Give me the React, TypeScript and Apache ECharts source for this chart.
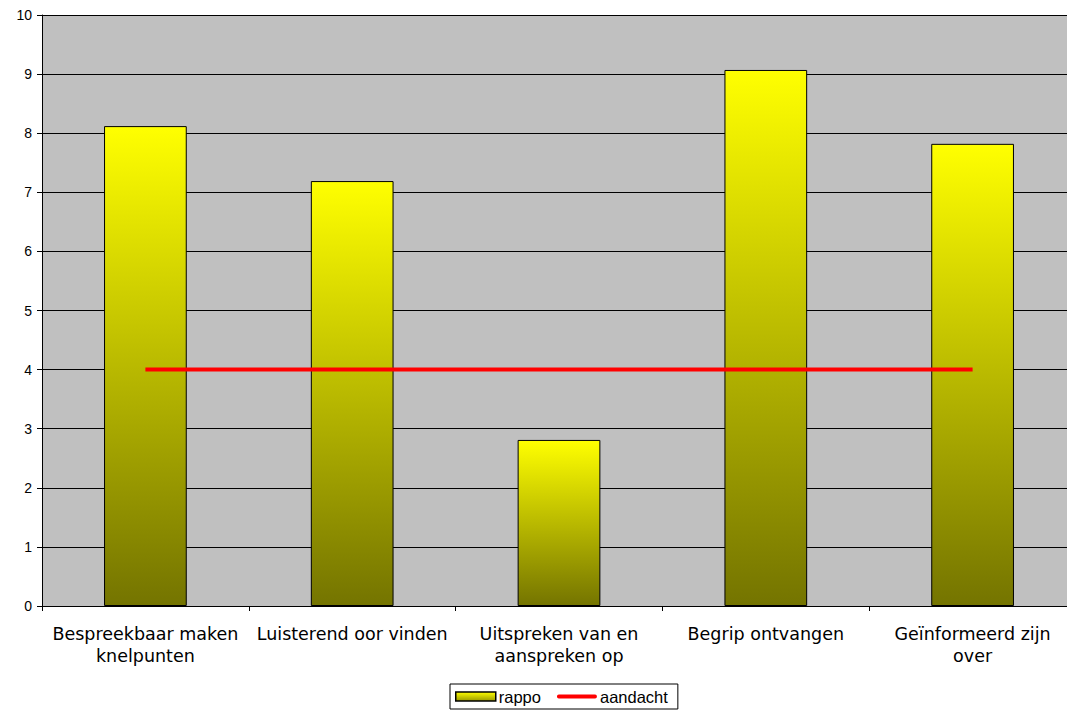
import React, { useEffect, useRef } from "react";
import * as echarts from "echarts";

const categories = [
  "Bespreekbaar maken\nknelpunten",
  "Luisterend oor vinden",
  "Uitspreken van en\naanspreken op",
  "Begrip ontvangen",
  "Geïnformeerd zijn\nover",
];
const rappo = [8.12, 7.19, 2.81, 9.07, 7.82];
const aandacht = [4, 4, 4, 4, 4];
const yTicks = { min: 0, max: 10, interval: 1 };

export default function App() {
  const ref = useRef<HTMLDivElement>(null);
  useEffect(() => {
    const chart = echarts.init(ref.current!, undefined, { renderer: "svg" });
    const grad = new echarts.graphic.LinearGradient(0, 0, 0, 1, [
      { offset: 0, color: "#FFFF00" },
      { offset: 1, color: "#747400" },
    ]);
    const legendGrad = new echarts.graphic.LinearGradient(0, 0, 0, 1, [
      { offset: 0, color: "#FFFF00" },
      { offset: 1, color: "#9A9A00" },
    ]);
    chart.setOption({
      animation: false,
      grid: {
        left: 42,
        width: 1034,
        top: 15,
        bottom: 105,
        show: true,
        backgroundColor: "#C0C0C0",
        borderWidth: 0,
        containLabel: false,
        outerBoundsMode: "none",
      },
      legend: {
        left: 450,
        top: 684,
        itemWidth: 40,
        itemHeight: 9,
        itemGap: 16,
        padding: [4, 10, 4, 5],
        borderColor: "#000",
        borderWidth: 1,
        backgroundColor: "#fff",
        symbolKeepAspect: true,
        textStyle: { fontFamily: "Liberation Sans", fontSize: 16.5, color: "#000", padding: [0, 0, 0, -2] },
        data: [
          { name: "rappo", icon: "rect", itemStyle: { color: legendGrad, borderColor: "#000", borderWidth: 1.5 } },
          {
            name: "aandacht",
            icon: "path://M2 0 H40 A2 2 0 0 1 40 4 H2 A2 2 0 0 1 2 0 Z",
            itemStyle: { color: "#FF0000", borderWidth: 0 },
          },
        ],
      },
      xAxis: {
        type: "category",
        data: categories,
        boundaryGap: true,
        axisLine: { show: true, lineStyle: { color: "#000", width: 1 } },
        axisTick: { show: true, length: 5, lineStyle: { color: "#000" } },
        axisLabel: {
          interval: 0,
          margin: 17,
          fontFamily: "DejaVu Sans",
          fontSize: 17.5,
          lineHeight: 22,
          color: "#000",
        },
        splitLine: { show: false },
      },
      yAxis: {
        type: "value",
        min: yTicks.min,
        max: yTicks.max,
        interval: yTicks.interval,
        axisLine: { show: true, lineStyle: { color: "#000", width: 1 } },
        axisTick: { show: true, length: 5, lineStyle: { color: "#000" } },
        axisLabel: { fontFamily: "Liberation Sans", fontSize: 14, color: "#000", margin: 10 },
        splitLine: { show: true, lineStyle: { color: "#000", width: 1 } },
      },
      series: [
        {
          name: "rappo",
          type: "bar",
          data: rappo,
          barWidth: "40%",
          itemStyle: { color: grad, borderColor: "#000", borderWidth: 1 },
        },
        {
          name: "aandacht",
          type: "line",
          data: aandacht,
          symbol: "none",
          lineStyle: { color: "#FF0000", width: 4 },
          itemStyle: { color: "#FF0000" },
        },
      ],
    });
    return () => chart.dispose();
  }, []);
  return (
    <div
      ref={ref}
      style={{ position: "fixed", left: 0, top: 0, width: 1067, height: 711, background: "#fff" }}
    />
  );
}
